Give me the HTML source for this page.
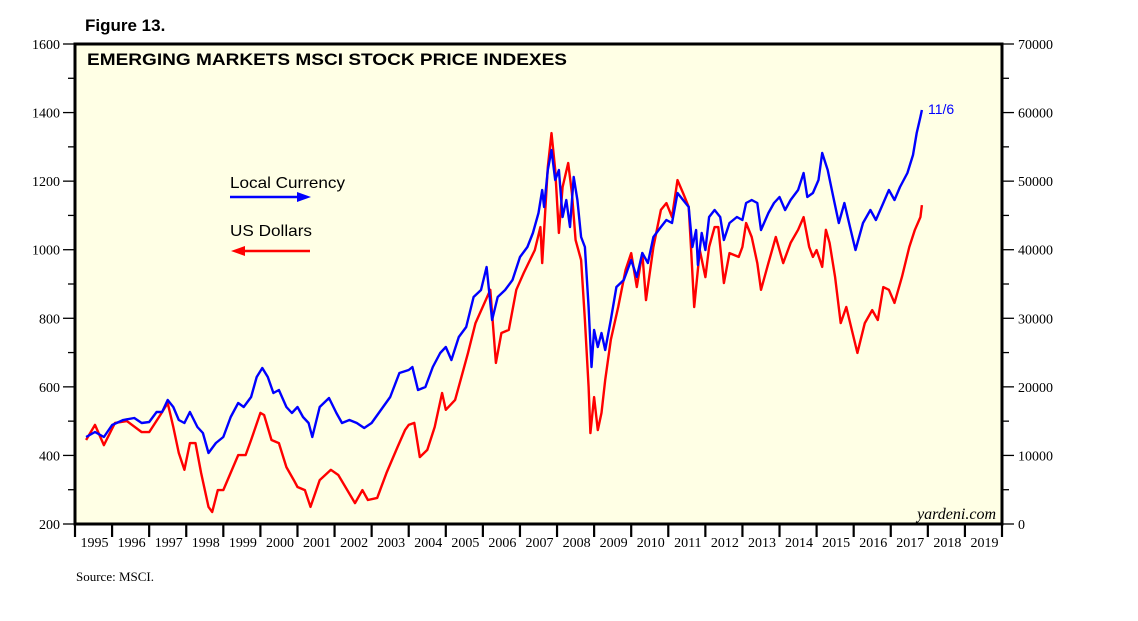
<!DOCTYPE html>
<html><head><meta charset="utf-8"><style>
body{margin:0;background:#fff;}
svg{display:block;}
</style></head><body>
<svg id="chart" width="1138" height="621" xmlns="http://www.w3.org/2000/svg" font-family="Liberation Serif, serif"></svg>
<script>
const redDates=[1995.3,1995.54,1995.78,1996.08,1996.4,1996.8,1997.0,1997.3,1997.5,1997.65,1997.8,1997.95,1998.1,1998.25,1998.4,1998.6,1998.7,1998.85,1999.0,1999.4,1999.6,1999.75,2000.0,2000.1,2000.3,2000.5,2000.7,2000.9,2001.0,2001.2,2001.35,2001.6,2001.9,2002.1,2002.55,2002.75,2002.9,2003.15,2003.4,2003.7,2003.9,2004.0,2004.15,2004.3,2004.5,2004.7,2004.9,2005.0,2005.25,2005.4,2005.6,2005.8,2006.2,2006.35,2006.5,2006.7,2006.9,2007.1,2007.4,2007.55,2007.6,2007.75,2007.85,2007.95,2008.05,2008.15,2008.3,2008.4,2008.5,2008.65,2008.75,2008.85,2008.9,2009.0,2009.1,2009.2,2009.3,2009.45,2009.65,2009.85,2010.0,2010.15,2010.3,2010.4,2010.6,2010.8,2010.95,2011.1,2011.25,2011.4,2011.55,2011.62,2011.7,2011.85,2012.0,2012.1,2012.25,2012.35,2012.5,2012.65,2012.9,2013.0,2013.1,2013.25,2013.4,2013.5,2013.7,2013.9,2014.1,2014.3,2014.5,2014.65,2014.8,2014.9,2015.0,2015.15,2015.25,2015.35,2015.5,2015.65,2015.8,2015.95,2016.1,2016.3,2016.5,2016.65,2016.8,2016.95,2017.1,2017.3,2017.5,2017.65,2017.8,2017.84];
const usdValues=[445,489,430,495,500,468,468,518,553,483,407,358,436,436,349,250,235,299,299,401,401,445,524,518,445,436,366,328,308,299,250,328,358,343,261,299,270,276,349,425,474,489,495,395,416,483,582,533,562,620,699,786,883,670,757,766,883,932,999,1066,961,1241,1340,1233,1049,1183,1253,1165,1028,970,795,600,465,570,474,524,620,737,833,941,990,891,990,853,1008,1116,1136,1095,1203,1165,1125,990,833,999,920,1008,1066,1066,903,990,979,1008,1078,1037,961,883,961,1037,961,1020,1058,1095,1008,979,999,950,1058,1020,920,786,833,766,699,786,824,795,891,883,845,920,1008,1058,1095,1130];
const blueDates=[1995.3,1995.54,1995.78,1996.0,1996.3,1996.6,1996.8,1997.0,1997.2,1997.35,1997.5,1997.65,1997.8,1997.95,1998.1,1998.3,1998.45,1998.6,1998.8,1999.0,1999.2,1999.4,1999.55,1999.75,1999.9,2000.05,2000.2,2000.35,2000.5,2000.7,2000.85,2001.0,2001.15,2001.3,2001.4,2001.6,2001.85,2002.05,2002.2,2002.4,2002.6,2002.8,2003.0,2003.25,2003.5,2003.75,2004.0,2004.1,2004.25,2004.45,2004.65,2004.85,2005.0,2005.15,2005.35,2005.55,2005.75,2005.95,2006.1,2006.25,2006.4,2006.6,2006.8,2007.0,2007.2,2007.35,2007.5,2007.6,2007.65,2007.75,2007.85,2007.95,2008.05,2008.15,2008.25,2008.35,2008.45,2008.55,2008.65,2008.75,2008.85,2008.93,2009.0,2009.1,2009.2,2009.3,2009.45,2009.6,2009.8,2010.0,2010.15,2010.3,2010.45,2010.6,2010.8,2010.95,2011.1,2011.25,2011.4,2011.55,2011.65,2011.75,2011.8,2011.9,2012.0,2012.1,2012.25,2012.4,2012.5,2012.65,2012.85,2013.0,2013.1,2013.25,2013.4,2013.5,2013.7,2013.85,2014.0,2014.15,2014.3,2014.5,2014.65,2014.75,2014.9,2015.05,2015.15,2015.3,2015.45,2015.6,2015.75,2015.9,2016.05,2016.25,2016.45,2016.6,2016.8,2016.95,2017.1,2017.25,2017.45,2017.6,2017.7,2017.8,2017.84];
const localValues=[12687,13417,12687,14437,15166,15458,14729,14875,16333,16333,18083,17062,15166,14729,16333,14146,13271,10354,11812,12687,15604,17645,17062,18520,21437,22750,21437,19104,19541,17062,16187,17062,15604,14729,12687,17062,18375,16187,14729,15166,14729,14000,14729,16625,18520,22020,22458,22895,19541,19979,22895,24937,25812,23916,27270,28729,33104,34125,37479,29750,33104,34125,35583,38937,40395,42437,45354,48708,46228,51625,54541,50166,51625,44770,47250,43312,50603,47250,41853,40395,31645,22895,28291,25812,27854,25375,29750,34562,35583,38500,36020,39520,38062,41853,43312,44333,43895,48270,47250,46228,40395,42875,37770,42437,39958,44770,45791,44770,41416,43895,44770,44333,46812,47250,46812,42875,45354,46812,47687,45791,47250,48708,51187,47687,48270,50166,54104,51625,47687,43895,46812,43312,39958,43895,45791,44333,46812,48708,47250,49145,51187,53812,57020,59354,60375];
const years=[1995,1996,1997,1998,1999,2000,2001,2002,2003,2004,2005,2006,2007,2008,2009,2010,2011,2012,2013,2014,2015,2016,2017,2018,2019];
const leftTicks=[200,400,600,800,1000,1200,1400,1600];
const rightTicks=[0,10000,20000,30000,40000,50000,60000,70000];

const L=75,R=1002,T=44,B=524;
const x=t=>L+(t-1995)*(R-L)/25;
const yL=v=>B-(v-200)/1400*(B-T);
const yR=v=>B-v/70000*(B-T);
const svg=document.getElementById('chart');
const NS='http://www.w3.org/2000/svg';
function mk(tag,attrs,parent){const e=document.createElementNS(NS,tag);for(const k in attrs)e.setAttribute(k,attrs[k]);(parent||svg).appendChild(e);return e;}

const bg=mk('rect',{x:L,y:T,width:R-L,height:B-T,fill:'#ffffe5'});



const axes=mk('g',{stroke:'#000'});


leftTicks.forEach((v,i)=>{
  mk('line',{x1:63,x2:L,y1:yL(v),y2:yL(v),'stroke-width':1.3},axes);
  if(i<leftTicks.length-1) mk('line',{x1:68,x2:L,y1:yL(v+100),y2:yL(v+100),'stroke-width':1.3},axes);
  const t=mk('text',{x:60,y:yL(v)+5,'text-anchor':'end','font-size':14,fill:'#000',stroke:'none'});
  t.textContent=v;
  
  
});
rightTicks.forEach((v,i)=>{
  mk('line',{x1:R,x2:1014,y1:yR(v),y2:yR(v),'stroke-width':1.3},axes);
  if(i<rightTicks.length-1) mk('line',{x1:R,x2:1009,y1:yR(v+5000),y2:yR(v+5000),'stroke-width':1.3},axes);
  const t=mk('text',{x:1018,y:yR(v)+5,'font-size':14,fill:'#000',stroke:'none'});
  t.textContent=v;
  
  
});
years.forEach(yr=>{
  mk('line',{x1:x(yr),x2:x(yr),y1:B,y2:537,'stroke-width':2.2},axes);
  const t=mk('text',{x:x(yr+0.5)+1,y:547,'text-anchor':'middle','font-size':14,fill:'#000',stroke:'none'});
  t.textContent=yr;
  
  
});
mk('line',{x1:R,x2:R,y1:B,y2:537,'stroke-width':2.2},axes);

function line(dates,vals,fy,color,name){
  const d=dates.map((t,i)=>(i?'L':'M')+x(t).toFixed(1)+','+fy(vals[i]).toFixed(1)).join('');
  const p=mk('path',{d:d,fill:'none',stroke:color,'stroke-width':2.4,'stroke-linejoin':'round'});
  
  
}
line(redDates,usdValues,yL,'#ff0000','us-dollars-line');
line(blueDates,localValues,yR,'#0000ff','local-currency-line');

const fr=mk('rect',{x:L,y:T,width:R-L,height:B-T,fill:'none',stroke:'#000','stroke-width':3});



function txt(s,a,name){const t=mk('text',a);t.textContent=s;return t;}
txt('Figure 13.',{x:85,y:31,'font-family':'Liberation Sans, sans-serif','font-weight':'bold','font-size':17},'figure-label');
txt('EMERGING MARKETS MSCI STOCK PRICE INDEXES',{x:87,y:65,'font-family':'Liberation Sans, sans-serif','font-weight':'bold','font-size':17,'textLength':480,'lengthAdjust':'spacingAndGlyphs'},'chart-title');
txt('Local Currency',{x:230,y:188,'font-family':'Liberation Sans, sans-serif','font-size':16,'textLength':115,'lengthAdjust':'spacingAndGlyphs'},'legend-local-currency');
txt('US Dollars',{x:230,y:236,'font-family':'Liberation Sans, sans-serif','font-size':16,'textLength':82,'lengthAdjust':'spacingAndGlyphs'},'legend-us-dollars');
txt('11/6',{x:928,y:114,'font-family':'Liberation Sans, sans-serif','font-size':14,fill:'#0000ff'},'last-date-label');
txt('yardeni.com',{x:996,y:519,'text-anchor':'end','font-style':'italic','font-size':16},'watermark');
txt('Source: MSCI.',{x:76,y:581,'font-size':13},'source-note');

const a1=mk('g',{});


mk('line',{x1:230,x2:300,y1:197,y2:197,stroke:'#0000ff','stroke-width':2.5},a1);
mk('polygon',{points:'311,197 297,192 297,202',fill:'#0000ff'},a1);
const a2=mk('g',{});


mk('line',{x1:242,x2:310,y1:251,y2:251,stroke:'#ff0000','stroke-width':2.5},a2);
mk('polygon',{points:'231,251 245,246 245,256',fill:'#ff0000'},a2);
</script>
</body></html>
